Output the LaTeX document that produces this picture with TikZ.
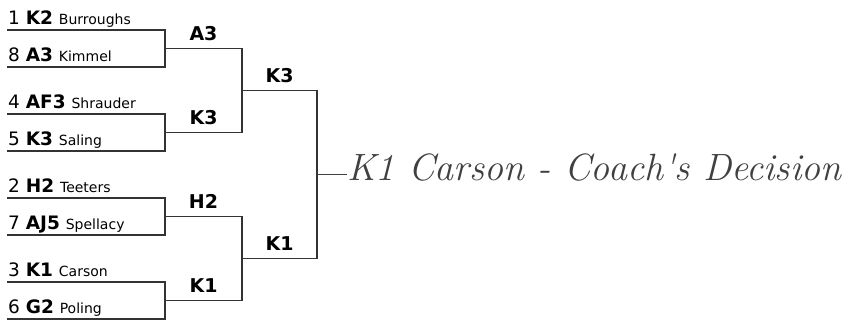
\documentclass[tikz,border=0pt]{standalone}
\usepackage{fontspec}
\setmainfont{DejaVu Sans}
\newfontfamily\handfont{Latin Modern Roman}
\tikzset{
  bracket/.style={line width=1.2pt,color=black!80},
  seedtxt/.style={anchor=base west,inner sep=0pt,font=\fontsize{18.5}{18.5}\selectfont},
  wintxt/.style={anchor=base,inner sep=0pt,font=\fontsize{19}{19}\selectfont\bfseries},
  handtxt/.style={anchor=west,inner sep=0pt,text=black!75,font=\handfont\itshape\fontsize{38}{38}\selectfont}
}
\newcommand{\nm}[1]{{\fontsize{14}{14}\selectfont #1}}

\begin{document}
\begin{tikzpicture}[x=1pt,y=-1pt]
            \useasboundingbox (0,0) rectangle (859,324);
            \foreach \n/\y in {1/30,2/114,3/198,4/282} {
              \draw[bracket] (7,\y) -| (165,\y+37) -- (7,\y+37);
              \coordinate (p\n) at (165,\y+18.5);
            }
            \node[seedtxt] (s1) at (8,24) {1 \textbf{K2} \nm{Burroughs}};
            \node[seedtxt] (s8) at (8,61) {8 \textbf{A3} \nm{Kimmel}};
            \node[seedtxt] (s4) at (8,108) {4 \textbf{AF3} \nm{Shrauder}};
            \node[seedtxt] (s5) at (8,145) {5 \textbf{K3} \nm{Saling}};
            \node[seedtxt] (s2) at (8,192) {2 \textbf{H2} \nm{Teeters}};
            \node[seedtxt] (s7) at (8,229) {7 \textbf{AJ5} \nm{Spellacy}};
            \node[seedtxt] (s3) at (8,276) {3 \textbf{K1} \nm{Carson}};
            \node[seedtxt] (s6) at (8,313) {6 \textbf{G2} \nm{Poling}};
            \coordinate (q1) at (242,90.5);
            \coordinate (q2) at (242,258.5);
            \coordinate (fin) at (317,174.5);
            \draw[bracket] (p1) -| (q1) |- (p2);
            \draw[bracket] (p3) -| (q2) |- (p4);
            \draw[bracket] (q1) -| (fin) |- (q2);
            \node[wintxt] (w1) at (203.5,40) {A3};
            \node[wintxt] (w2) at (203.5,124) {K3};
            \node[wintxt] (w3) at (203.5,208) {H2};
            \node[wintxt] (w4) at (203.5,292) {K1};
            \node[wintxt] (v1) at (279.5,82) {K3};
            \node[wintxt] (v2) at (279.5,250) {K1};
            \node[handtxt] (note) at (347,168) {K1 Carson - Coach's Decision};
            \draw[line width=1.2pt,black!75] (fin) -- (fin -| note.west);
        \end{tikzpicture}
\end{document}
